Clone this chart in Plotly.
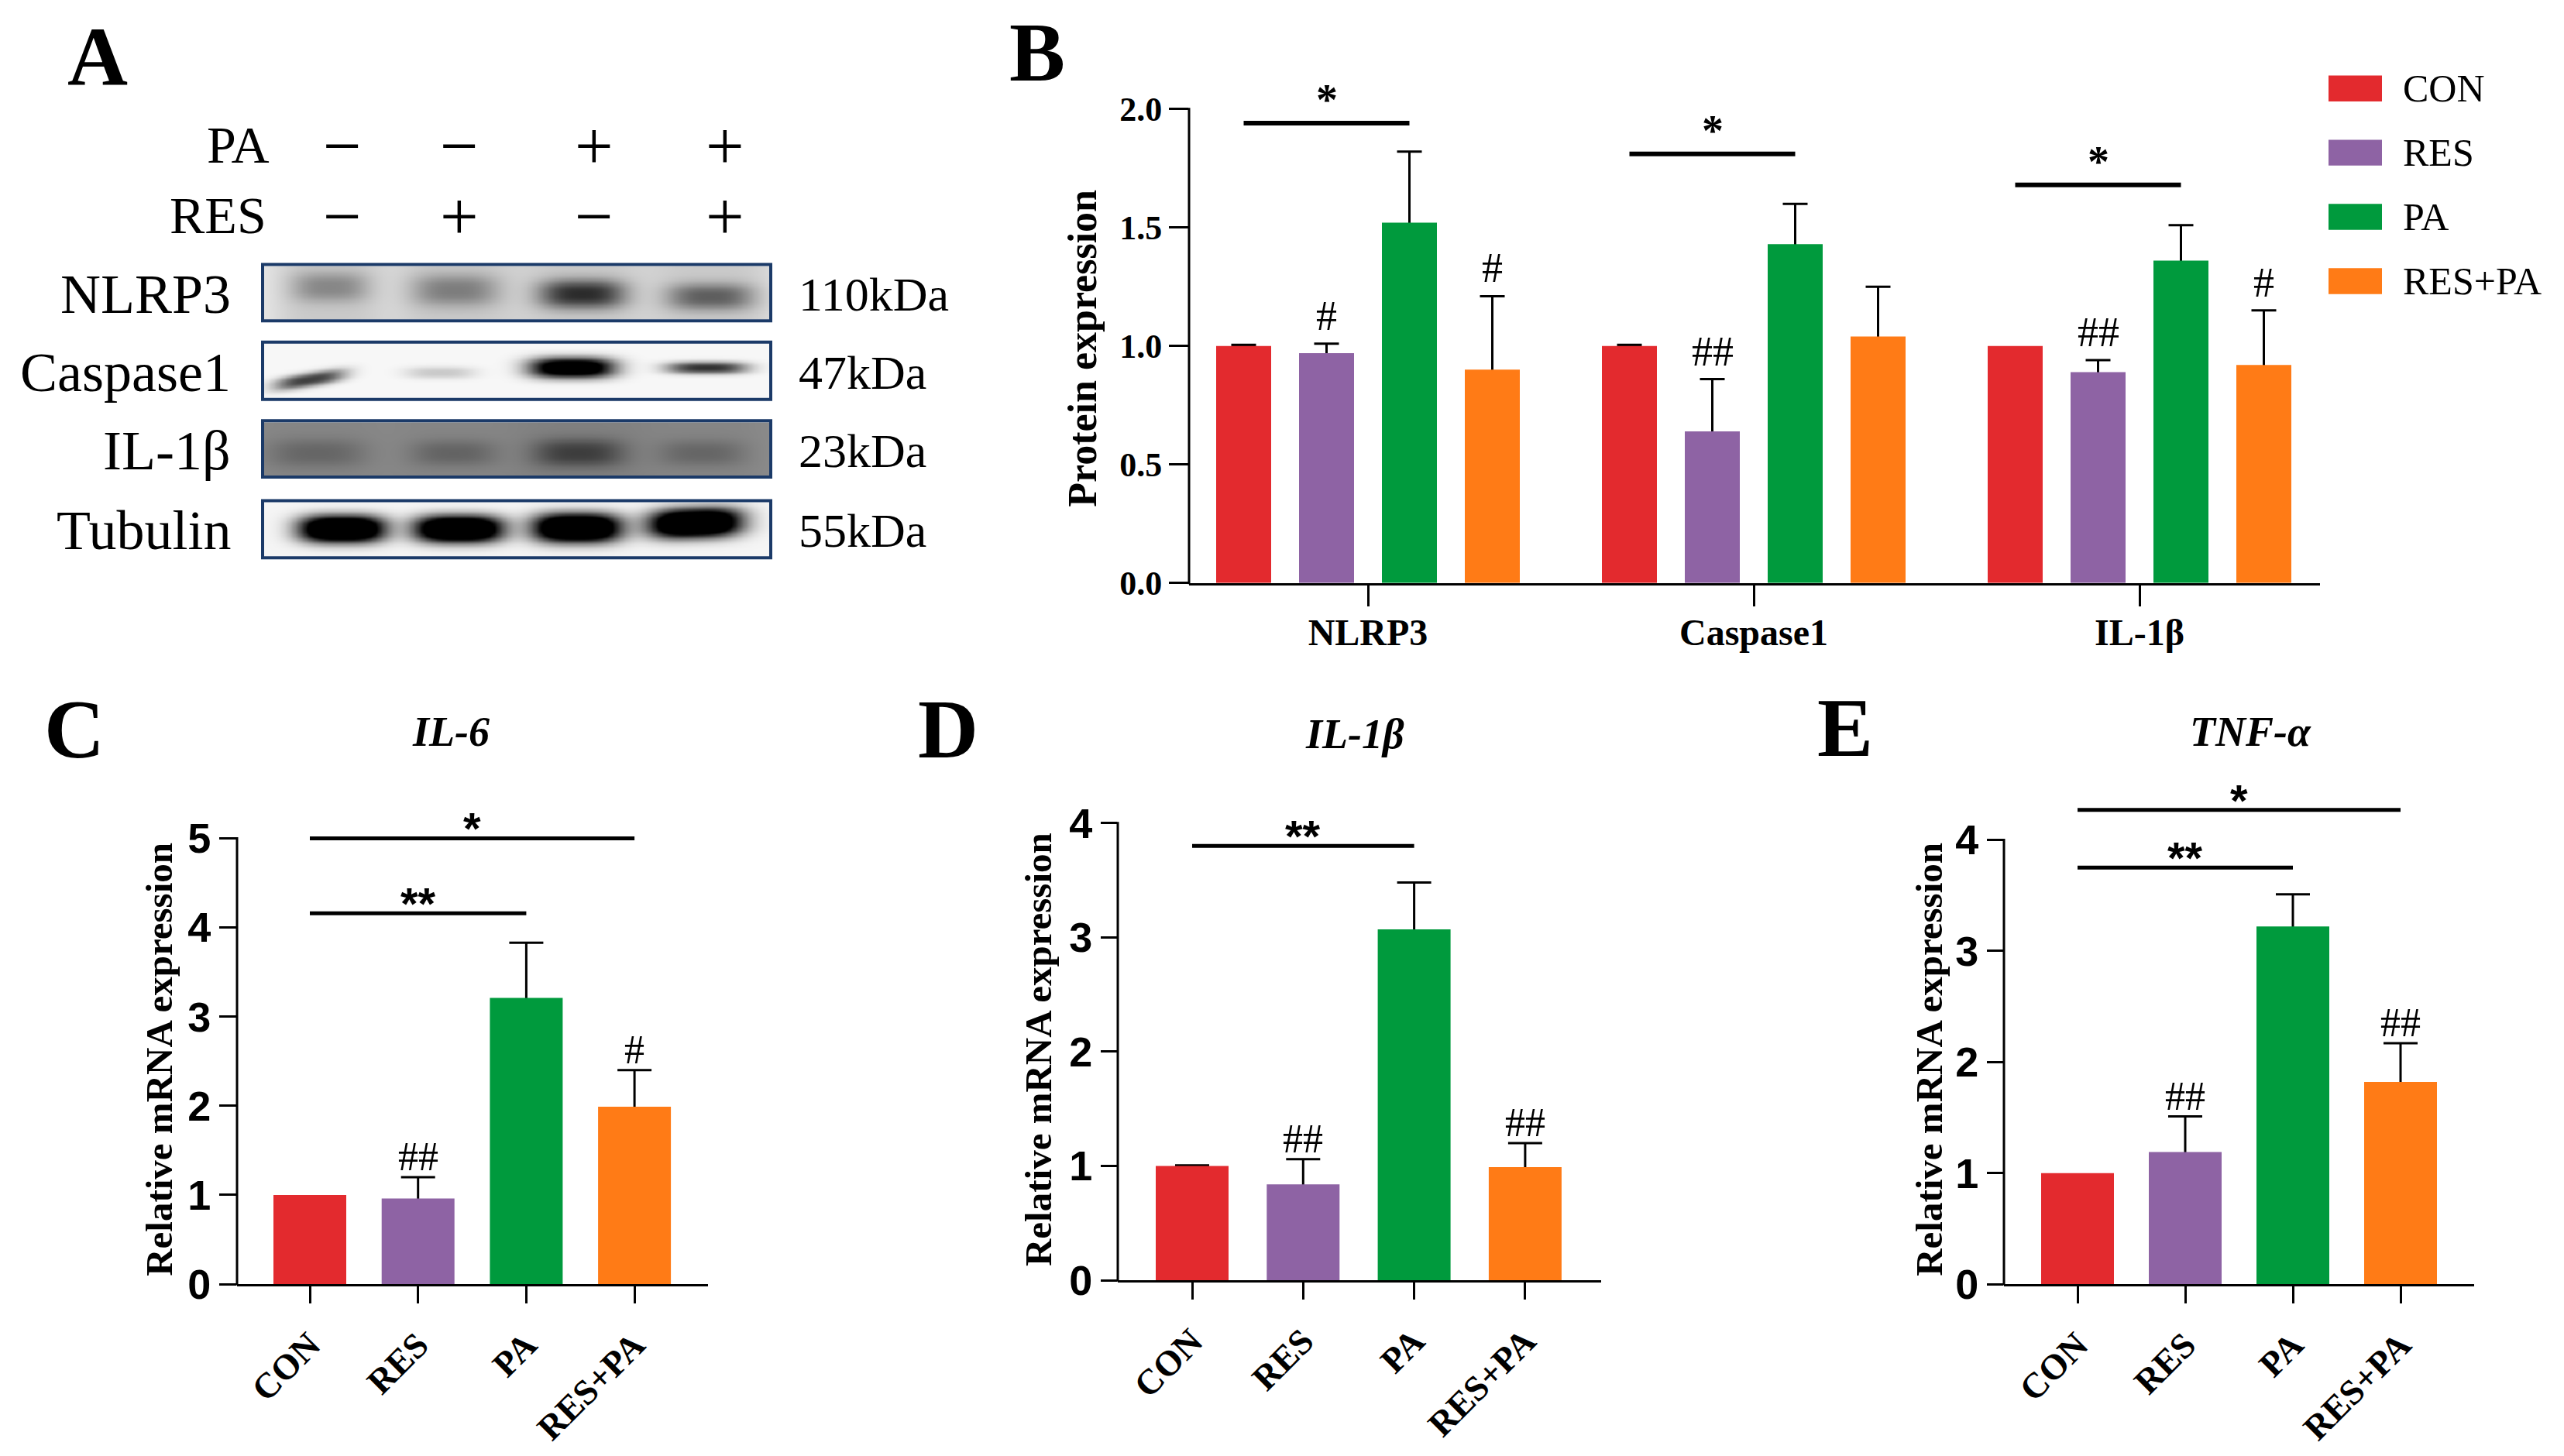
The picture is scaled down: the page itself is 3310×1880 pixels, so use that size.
import numpy as np
import plotly.graph_objects as go

W, H = 3310, 1880
SERIF = "Liberation Serif"
SANS = "Liberation Sans"

# ---------------- data ----------------
groups = ["CON", "RES", "PA", "RES+PA"]
group_colors = ["#E32A2E", "#8E63A4", "#009A3D", "#FF7B16"]

# Panel B: protein expression (western blot quantification)
b_targets = ["NLRP3", "Caspase1", "IL-1β"]
b_con = [1.00, 1.00, 1.00]
b_con_err = [0.005, 0.005, None]
b_res = [0.97, 0.64, 0.89]
b_res_err = [0.04, 0.22, 0.05]
b_pa = [1.52, 1.43, 1.36]
b_pa_err = [0.30, 0.17, 0.15]
b_respa = [0.90, 1.04, 0.92]
b_respa_err = [0.31, 0.21, 0.23]
b_res_marks = ["#", "##", "##"]
b_respa_marks = ["#", "", "#"]
b_sig_y = [1.94, 1.81, 1.68]
b_sig_text = ["*", "*", "*"]
b_yticks = [0.0, 0.5, 1.0, 1.5, 2.0]

# Panel C: IL-6 mRNA
c_title = "IL-6"
c_mean = [1.00, 0.96, 3.21, 1.99]
c_err = [None, 0.24, 0.62, 0.41]
c_marks = ["", "##", "", "#"]
c_sig_from = [0, 0]
c_sig_to = [2, 3]
c_sig_y = [4.16, 5.00]
c_sig_text = ["**", "*"]
c_yticks = [0, 1, 2, 3, 4, 5]

# Panel D: IL-1β mRNA
d_title = "IL-1β"
d_mean = [1.00, 0.84, 3.07, 0.99]
d_err = [0.005, 0.22, 0.41, 0.21]
d_marks = ["", "##", "", "##"]
d_sig_from = [0]
d_sig_to = [2]
d_sig_y = [3.80]
d_sig_text = ["**"]
d_yticks = [0, 1, 2, 3, 4]

# Panel E: TNF-α mRNA
e_title = "TNF-α"
e_mean = [1.00, 1.19, 3.22, 1.82]
e_err = [None, 0.32, 0.29, 0.35]
e_marks = ["", "##", "", "##"]
e_sig_from = [0, 0]
e_sig_to = [2, 3]
e_sig_y = [3.75, 4.27]
e_sig_text = ["**", "*"]
e_yticks = [0, 1, 2, 3, 4]

# Panel A: western blot
pa_signs = ["−", "−", "+", "+"]
res_signs = ["−", "+", "−", "+"]
blot_names = ["NLRP3", "Caspase1", "IL-1β", "Tubulin"]
blot_kda = ["110kDa", "47kDa", "23kDa", "55kDa"]
blot_bg = [0.09, 0.03, 0.45, 0.04]
blot_col = [[0.12, 0.12, 0.12, 0.12], [0, 0, 0, 0], [0.03, 0.03, 0.05, 0.03], [0, 0, 0, 0]]
blot_lane_x = [[0.13, 0.378, 0.629, 0.883], [0.09, 0.348, 0.609, 0.876],
               [0.104, 0.375, 0.622, 0.866], [0.154, 0.385, 0.619, 0.853]]
blot_lane_y = [[0.39, 0.45, 0.52, 0.57], [0.66, 0.53, 0.44, 0.44],
               [0.57, 0.57, 0.57, 0.57], [0.49, 0.49, 0.47, 0.38]]
blot_band = [[0.26, 0.30, 0.62, 0.42], [0.72, 0.18, 1.3, 0.78],
             [0.12, 0.13, 0.26, 0.12], [1.6, 1.6, 1.6, 1.6]]
blot_hw = [[0.075, 0.085, 0.085, 0.085], [0.07, 0.07, 0.085, 0.08],
           [0.095, 0.085, 0.09, 0.085], [0.085, 0.088, 0.088, 0.092]]
blot_hh = [[0.28, 0.30, 0.27, 0.25], [0.13, 0.11, 0.19, 0.11],
           [0.26, 0.24, 0.26, 0.24], [0.25, 0.25, 0.27, 0.27]]
blot_tilt = [[0, 0, 0, 0], [-1.5, 0, 0, 0], [0, 0, 0, 0], [0, 0, 0, -0.3]]

# ---------------- layout geometry (pixels) ----------------
geo_b = dict(yx=1535, x1=2995, y0=765, ppu=311, ytop=2.2, ymax=2.0, c0=1766, pitch=498, ticklen=25, xticklen=27)
geo_c = dict(yx=306, x1=914, y0=1685, ppu=117, ytop=5.6, ymax=5, c0=400, pitch=139.7, ticklen=22, xticklen=22)
geo_d = dict(yx=1443, x1=2067, y0=1680, ppu=150, ytop=4.35, ymax=4, c0=1539, pitch=143.3, ticklen=21, xticklen=22)
geo_e = dict(yx=2587, x1=3194, y0=1685, ppu=145.75, ytop=4.75, ymax=4, c0=2682, pitch=139, ticklen=21, xticklen=22)

fig = go.Figure()
shapes = []
annotations = []
axes = {}


def P(px):
    return px / W


def Q(py):
    return 1 - py / H


def text(x, y, t, size, family=SERIF, xanchor="center", yanchor="middle",
         xref="paper", yref="paper", angle=0, yshift=0):
    annotations.append(dict(x=x, y=y, text=t, showarrow=False,
                            font=dict(family=family, size=size, color="black"),
                            xanchor=xanchor, yanchor=yanchor, xref=xref, yref=yref,
                            textangle=angle, yshift=yshift))


def setup_axes(nx, ny, g, tickvals, ticktext, tfont, tangle, yticks, ytext, yfont, standoff):
    xkey = "xaxis" if nx == 1 else f"xaxis{nx}"
    ykey = "yaxis" if ny == 1 else f"yaxis{ny}"
    xid = "x" if nx == 1 else f"x{nx}"
    yid = "y" if ny == 1 else f"y{ny}"
    xr = [(g["yx"] - g["c0"]) / g["pitch"], (g["x1"] - g["c0"]) / g["pitch"]]
    axes[xkey] = dict(domain=[P(g["yx"]), P(g["x1"])], range=xr, anchor=yid,
                      showline=True, linecolor="black", linewidth=3,
                      ticks="outside", ticklen=g["xticklen"], tickwidth=3, tickcolor="black",
                      tickvals=tickvals, ticktext=ticktext, tickfont=tfont, tickangle=tangle,
                      ticklabelstandoff=standoff,
                      showgrid=False, zeroline=False, fixedrange=True)
    axes[ykey] = dict(domain=[Q(g["y0"]), Q(g["y0"] - g["ytop"] * g["ppu"])],
                      range=[0, g["ytop"]], anchor=xid, showline=False,
                      ticks="outside", ticklen=g["ticklen"], tickwidth=3, tickcolor="black",
                      tickvals=yticks, ticktext=ytext, tickfont=yfont,
                      showgrid=False, zeroline=False, fixedrange=True)
    shapes.append(dict(type="line", xref="paper", yref="paper",
                       x0=P(g["yx"]), x1=P(g["yx"]),
                       y0=Q(g["y0"] + 1.5), y1=Q(g["y0"] - g["ymax"] * g["ppu"] - 1.5),
                       line=dict(color="black", width=3)))
    return xid, yid


def add_bars(xid, yid, xs, means, errs, colors, width, capw):
    ex = [x for x, e in zip(xs, errs) if e is not None]
    ey = [m for m, e in zip(means, errs) if e is not None]
    ee = [e for e in errs if e is not None]
    fig.add_trace(go.Bar(x=ex, y=ey, width=width, xaxis=xid, yaxis=yid,
                         marker=dict(color="rgba(0,0,0,0)", line=dict(width=0)),
                         error_y=dict(type="data", array=ee, symmetric=True, color="black",
                                      thickness=3, width=capw),
                         showlegend=False, hoverinfo="skip"))
    fig.add_trace(go.Bar(x=xs, y=means, width=width, xaxis=xid, yaxis=yid,
                         marker=dict(color=colors, line=dict(width=0)), showlegend=False))


def add_marks(xid, yid, xs, means, errs, marks, size, shift):
    for x, m, e, t in zip(xs, means, errs, marks):
        if t:
            text(x, m + (e or 0), t, size, xref=xid, yref=yid, yanchor="bottom", yshift=shift)


def add_sig(xid, yid, xfrom, xto, ys, labels, lw, size, family, shift):
    for a, b, y, t in zip(xfrom, xto, ys, labels):
        shapes.append(dict(type="line", xref=xid, yref=yid, x0=a, x1=b, y0=y, y1=y,
                           line=dict(color="black", width=lw)))
        text((a + b) / 2, y, f"<b>{t}</b>", size, family=family, xref=xid, yref=yid,
             yanchor="bottom", yshift=shift)


# ---------------- Panel B ----------------
bx, by = setup_axes(1, 1, geo_b, list(range(len(b_targets))), [f"<b>{t}</b>" for t in b_targets],
                    dict(family=SERIF, size=48, color="black"), 0,
                    b_yticks, [f"<b>{v:.1f}</b>" for v in b_yticks],
                    dict(family=SERIF, size=44, color="black"), -7)
slot = 107 / geo_b["pitch"]
bw = 71 / geo_b["pitch"]
b_series = [(b_con, b_con_err, None), (b_res, b_res_err, b_res_marks),
            (b_pa, b_pa_err, None), (b_respa, b_respa_err, b_respa_marks)]
for j, (vals, errs, marks) in enumerate(b_series):
    xs = [i + (j - 1.5) * slot for i in range(len(b_targets))]
    add_bars(bx, by, xs, vals, errs, group_colors[j], bw, 16)
    if marks:
        add_marks(bx, by, xs, vals, errs, marks, 54, 4)
add_sig(bx, by, [i - 1.5 * slot for i in range(3)], [i + 0.5 * slot for i in range(3)],
        b_sig_y, b_sig_text, 6, 56, SERIF, -3)
text(P(1398), Q(457), "<b>Protein expression</b>", 52, angle=-90)
text(P(1339), Q(69), "<b>B</b>", 108)
for j, g in enumerate(groups):
    cy = 116 + 84.3 * j
    shapes.append(dict(type="rect", xref="paper", yref="paper", x0=P(3006), x1=P(3075),
                       y0=Q(cy + 17), y1=Q(cy - 17), fillcolor=group_colors[j], line=dict(width=0)))
    text(P(3100), Q(cy), g, 50, xanchor="left")

# ---------------- Panels C, D, E ----------------
mrna = [
    (2, 3, geo_c, c_title, c_mean, c_err, c_marks, c_sig_from, c_sig_to, c_sig_y, c_sig_text, c_yticks,
     "C", (96, 957), (582, 960), (206, 1390)),
    (3, 5, geo_d, d_title, d_mean, d_err, d_marks, d_sig_from, d_sig_to, d_sig_y, d_sig_text, d_yticks,
     "D", (1224, 957), (1749, 963), (1340, 1377)),
    (4, 7, geo_e, e_title, e_mean, e_err, e_marks, e_sig_from, e_sig_to, e_sig_y, e_sig_text, e_yticks,
     "E", (2382, 955), (2905, 960), (2491, 1390)),
]
for (nx, ny, g, title, mean, err, marks, sf, st, sy, stext, yt, letter, lpos, tpos, ypos) in mrna:
    xid, yid = setup_axes(nx, ny, g, list(range(len(groups))), [f"<b>{t}</b>" for t in groups],
                          dict(family=SERIF, size=46, color="black"), -45,
                          yt, [f"<b>{v}</b>" for v in yt],
                          dict(family=SANS, size=54, color="black"), 8)
    xs = list(range(len(groups)))
    add_bars(xid, yid, xs, mean, err, group_colors, 94 / g["pitch"], 22)
    add_marks(xid, yid, xs, mean, err, marks, 52, -4)
    add_sig(xid, yid, sf, st, sy, stext, 5, 58, SANS, -22)
    text(P(lpos[0]), Q(lpos[1]), f"<b>{letter}</b>", 108)
    text(P(tpos[0]), Q(tpos[1]), f"<b><i>{title}</i></b>", 54)
    text(P(ypos[0]), Q(ypos[1]), "<b>Relative mRNA expression</b>", 49, angle=-90)

# ---------------- Panel A ----------------
text(P(126), Q(75), "<b>A</b>", 108)
text(P(350), Q(190), "PA", 68, xanchor="right")
text(P(346), Q(282), "RES", 68, xanchor="right")
lane_px = [442, 593, 767, 936]
for k in range(4):
    text(P(lane_px[k]), Q(192), pa_signs[k], 88)
    text(P(lane_px[k]), Q(284), res_signs[k], 88)

box_y = [(347, 421), (449, 524), (552, 626), (657, 732)]
gx = np.linspace(0, 1, 280)
gy = np.linspace(0, 1, 60)
GX, GY = np.meshgrid(gx, gy)
for k in range(4):
    z = np.full_like(GX, blot_bg[k])
    for j in range(4):
        cx = blot_lane_x[k][j]
        cy = blot_lane_y[k][j] + blot_tilt[k][j] * (GX - cx)
        z += blot_col[k][j] * np.exp(-np.abs((GX - cx) / (blot_hw[k][j] * 1.5)) ** 4)
        z += blot_band[k][j] * np.exp(-np.abs((GX - cx) / blot_hw[k][j]) ** 3
                                      - np.abs((GY - cy) / blot_hh[k][j]) ** 2.5)
    z = np.clip(z, 0, 1)
    xn, yn = 5 + k, 9 + k
    y0p, y1p = box_y[k]
    axes[f"xaxis{xn}"] = dict(domain=[P(341), P(993)], range=[0, 1], visible=False,
                              anchor=f"y{yn}", fixedrange=True)
    axes[f"yaxis{yn}"] = dict(domain=[Q(y1p - 2), Q(y0p + 2)], range=[1, 0], visible=False,
                              anchor=f"x{xn}", fixedrange=True)
    fig.add_trace(go.Heatmap(x=gx, y=gy, z=z, xaxis=f"x{xn}", yaxis=f"y{yn}", zmin=0, zmax=1,
                             colorscale=[[0, "#ffffff"], [1, "#000000"]], showscale=False,
                             zsmooth="best", hoverinfo="skip"))
    shapes.append(dict(type="rect", xref="paper", yref="paper", x0=P(339), x1=P(995),
                       y0=Q(y1p), y1=Q(y0p), line=dict(color="#1B3A68", width=4),
                       fillcolor="rgba(0,0,0,0)"))
    cyp = (y0p + y1p) / 2
    text(P(300), Q(cyp + 2), blot_names[k], 72, xanchor="right")
    text(P(1029), Q(cyp + 2), blot_kda[k], 62, xanchor="left")

fig.update_layout(width=W, height=H, margin=dict(l=0, r=0, t=0, b=0),
                  paper_bgcolor="white", plot_bgcolor="rgba(0,0,0,0)",
                  barmode="overlay", showlegend=False,
                  font=dict(family=SERIF, color="black"),
                  shapes=shapes, annotations=annotations, **axes)

fig.write_html("out.html", include_plotlyjs=True, config={"displayModeBar": False},
               post_script="document.body.style.margin='0';document.body.style.overflow='hidden';")
